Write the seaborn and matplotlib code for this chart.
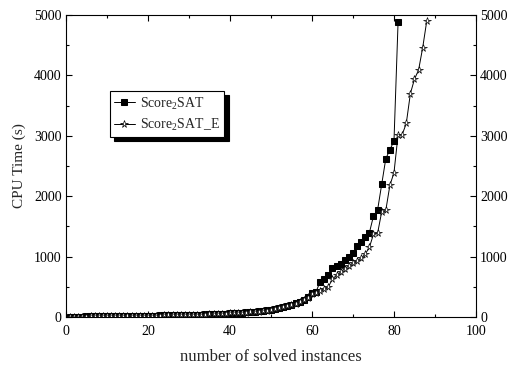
import matplotlib
matplotlib.use("Agg")
import matplotlib.pyplot as plt
import seaborn as sns
import pandas as pd
import numpy as np

sns.set_theme(style="ticks")
plt.rcParams['font.family'] = ['Liberation Serif', 'DejaVu Serif']
plt.rcParams['mathtext.fontset'] = 'custom'
plt.rcParams['mathtext.rm'] = 'Liberation Serif'

# CPU time (s) of each solved instance, sorted
score2sat = [5, 6, 7, 8, 9, 10, 10, 11, 12, 13,
             14, 14, 15, 16, 17, 18, 19, 20, 21, 22,
             23, 24, 25, 26, 27, 28, 29, 30, 32, 34,
             36, 38, 40, 42, 44, 46, 48, 52, 56, 60,
             64, 68, 72, 76, 80, 85, 92, 100, 110, 120,
             135, 150, 165, 180, 200, 225, 255, 285, 330, 390,
             420, 585, 624, 695, 806, 850, 870, 944, 990, 1054,
             1178, 1245, 1325, 1395, 1672, 1771, 2195, 2621, 2770, 2914,
             4889]
score2sat_e = [4, 5, 6, 7, 8, 9, 10, 10, 11, 12,
               13, 13, 14, 15, 16, 17, 18, 19, 20, 21,
               22, 23, 24, 25, 26, 27, 28, 29, 31, 33,
               35, 37, 39, 41, 43, 45, 47, 50, 54, 58,
               62, 66, 70, 74, 78, 83, 90, 98, 107, 117,
               130, 145, 160, 175, 195, 220, 245, 275, 315, 380,
               405, 430, 470, 500, 630, 690, 740, 800, 845, 894,
               935, 971, 1043, 1154, 1370, 1386, 1740, 1765, 2180, 2390,
               3020, 3020, 3207, 3700, 3940, 4090, 4460, 4906]

df_a = pd.DataFrame({"n": np.arange(1, len(score2sat) + 1), "t": score2sat})
df_b = pd.DataFrame({"n": np.arange(1, len(score2sat_e) + 1), "t": score2sat_e})

fig = plt.figure(figsize=(5.11, 3.68), dpi=100)
ax = fig.add_axes([0.129, 0.1386, 0.8025, 0.8204])

sns.lineplot(data=df_a, x="n", y="t", ax=ax, color="black", lw=0.7,
             marker="s", markersize=4, markerfacecolor="black",
             markeredgecolor="black", label="Score$_2$SAT")
sns.lineplot(data=df_b, x="n", y="t", ax=ax, color="black", lw=0.7,
             marker="*", markersize=5.5, markerfacecolor="white",
             markeredgecolor="black", markeredgewidth=0.5,
             label="Score$_2$SAT_E")

ax.set_xlim(0, 100)
ax.set_ylim(0, 5000)
ax.set_xticks(range(0, 101, 20))
ax.set_xticks(range(10, 100, 20), minor=True)
ax.set_yticks(range(0, 5001, 1000))
ax.set_yticks(range(500, 5000, 1000), minor=True)
ax.tick_params(which="both", direction="in", top=True, right=True,
               labelright=True, labelsize=10, colors="black")
ax.tick_params(which="major", length=4, width=0.8, pad=3)
ax.tick_params(which="minor", length=2.5, width=0.8)
ax.tick_params(axis="x", which="major", pad=6)
for s in ax.spines.values():
    s.set_color("black")
    s.set_linewidth(0.8)

ax.set_xlabel("number of solved instances", fontsize=12, labelpad=8)
ax.set_ylabel("CPU Time (s)", fontsize=11, labelpad=6)

leg = ax.legend(loc="upper left", bbox_to_anchor=(0.107, 0.748),
                frameon=True, fancybox=False, edgecolor="black",
                framealpha=1, fontsize=10, handlelength=1.5,
                handletextpad=0.4, borderpad=0.3, labelspacing=0.35,
                borderaxespad=0,
                shadow={"color": "black", "alpha": 1, "ox": 3, "oy": -3})
leg.get_frame().set_linewidth(0.8)

fig.savefig("out.png", dpi=100)
